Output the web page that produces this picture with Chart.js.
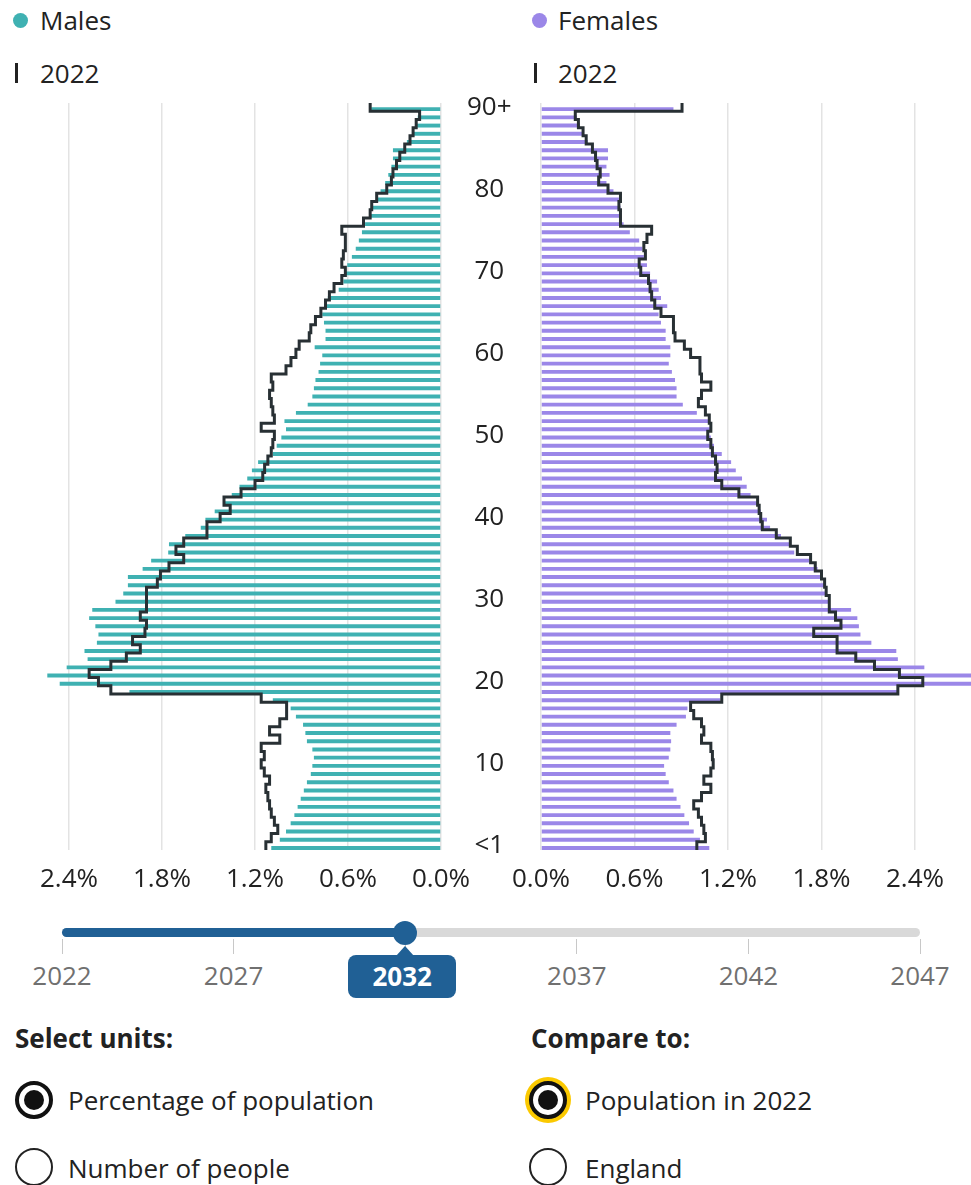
<!DOCTYPE html>
<html>
<head>
<meta charset="utf-8">
<script src="https://cdn.jsdelivr.net/npm/chart.js@4.4.0/dist/chart.umd.min.js"></script>
<style>
  body { margin:0; width:971px; height:1185px; position:relative; overflow:hidden; background:#fff;
         font-family:'Open Sans', sans-serif; color:#222; }
  .abs { position:absolute; }
  .txt { font-size:26px; line-height:30px; white-space:nowrap; }
  .bold { font-weight:700; }
  .dot { width:15px; height:15px; border-radius:50%; }
  .bar { width:3px; height:20px; background:#222; }
  .radio { width:38px; height:38px; border:2px solid #222; border-radius:50%; box-sizing:border-box; background:#fff; }
  .radio.on { border:4px solid #111; }
  .radio.on::after { content:''; position:absolute; left:5px; top:5px; width:20px; height:20px; border-radius:50%; background:#111; }
  .radio.focus { box-shadow:0 0 0 4px #fbc900; }
  canvas { position:absolute; }
</style>
</head>
<body>

<div class="abs dot" style="left:13px;top:13px;background:#3fb1b2"></div>
<div class="abs txt" style="left:40px;top:5px">Males</div>
<div class="abs bar" style="left:15px;top:63px"></div>
<div class="abs txt" id="cmpL" style="left:40px;top:58px"></div>

<div class="abs dot" style="left:532px;top:13px;background:#9b87e8"></div>
<div class="abs txt" style="left:558px;top:5px">Females</div>
<div class="abs bar" style="left:534px;top:63px"></div>
<div class="abs txt" id="cmpR" style="left:558px;top:58px"></div>

<canvas id="males" width="541" height="825" style="left:0;top:85px"></canvas>
<canvas id="females" width="480" height="825" style="left:491px;top:85px"></canvas>

<div id="slider"></div>

<div class="abs txt bold" style="left:15px;top:1023px">Select units:</div>
<div class="abs radio on" style="left:15px;top:1081px"></div>
<div class="abs txt" style="left:68px;top:1085px">Percentage of population</div>
<div class="abs radio" style="left:15px;top:1148px"></div>
<div class="abs txt" style="left:68px;top:1153px">Number of people</div>

<div class="abs txt bold" style="left:531px;top:1023px">Compare to:</div>
<div class="abs radio on focus" style="left:529px;top:1081px"></div>
<div class="abs txt" id="cmpOpt" style="left:585px;top:1085px"></div>
<div class="abs radio" style="left:529px;top:1148px"></div>
<div class="abs txt" style="left:585px;top:1153px">England</div>

<script>
// ages from the top row (90+) down to the bottom row (<1)
var ageLabels = ['90+','89','88','87','86','85','84','83','82','81','80','79','78','77','76','75','74','73','72','71',
  '70','69','68','67','66','65','64','63','62','61','60','59','58','57','56','55','54','53','52','51',
  '50','49','48','47','46','45','44','43','42','41','40','39','38','37','36','35','34','33','32','31',
  '30','29','28','27','26','25','24','23','22','21','20','19','18','17','16','15','14','13','12','11',
  '10','9','8','7','6','5','4','3','2','1','<1'];

// % of population, selected year
var males2032 = [0.45,0.15,0.16,0.18,0.22,0.31,0.31,0.32,0.34,0.36,
  0.39,0.415,0.44,0.46,0.49,0.51,0.53,0.55,0.575,0.605,
  0.62,0.63,0.66,0.73,0.745,0.766,0.755,0.745,0.745,0.815,
  0.766,0.78,0.79,0.81,0.82,0.83,0.86,0.936,1.01,1.0,
  1.03,1.06,1.085,1.18,1.22,1.25,1.30,1.35,1.40,1.46,
  1.52,1.55,1.65,1.755,1.76,1.87,1.925,2.02,2.02,2.05,
  2.10,2.25,2.27,2.23,2.21,2.22,2.30,2.28,2.415,2.54,
  2.46,2.01,1.085,0.97,0.936,0.89,0.875,0.865,0.83,0.82,
  0.83,0.84,0.865,0.885,0.905,0.925,0.946,0.97,1.0,1.04,
  1.095];
var females2032 = [0.85,0.23,0.25,0.27,0.30,0.43,0.43,0.42,0.44,0.42,
  0.465,0.50,0.51,0.51,0.53,0.57,0.63,0.65,0.66,0.68,
  0.70,0.745,0.755,0.77,0.81,0.755,0.77,0.80,0.80,0.83,
  0.83,0.82,0.84,0.86,0.87,0.87,0.91,1.0,1.08,1.09,
  1.09,1.11,1.16,1.22,1.25,1.29,1.32,1.345,1.39,1.41,
  1.45,1.47,1.54,1.60,1.625,1.72,1.775,1.80,1.82,1.83,
  1.85,1.99,2.03,2.04,2.05,2.12,2.28,2.29,2.46,2.9,
  2.85,2.29,1.15,0.94,0.93,0.87,0.83,0.835,0.83,0.82,
  0.79,0.80,0.82,0.85,0.87,0.895,0.92,0.95,0.98,1.02,
  1.08];

// % of population, comparison year (outline)
var males2022 = [0.457,0.138,0.16,0.18,0.20,0.234,0.266,0.287,0.31,0.32,
  0.35,0.415,0.447,0.457,0.50,0.64,0.617,0.617,0.63,0.64,
  0.617,0.64,0.69,0.72,0.745,0.775,0.81,0.84,0.85,0.915,
  0.936,0.968,1.0,1.095,1.085,1.106,1.095,1.085,1.075,1.16,
  1.075,1.085,1.095,1.117,1.138,1.15,1.20,1.29,1.40,1.36,
  1.425,1.51,1.51,1.66,1.71,1.66,1.755,1.81,1.83,1.90,
  1.90,1.90,1.94,1.90,1.91,1.99,1.94,2.03,2.13,2.27,
  2.21,2.13,1.16,0.996,0.996,1.04,1.106,1.04,1.16,1.14,
  1.16,1.14,1.106,1.13,1.117,1.106,1.095,1.075,1.053,1.095,
  1.13];
var females2022 = [0.905,0.22,0.24,0.27,0.29,0.33,0.35,0.36,0.38,0.37,
  0.43,0.51,0.50,0.51,0.51,0.71,0.68,0.66,0.67,0.63,
  0.64,0.69,0.70,0.71,0.73,0.77,0.85,0.85,0.86,0.92,
  0.96,1.02,1.02,1.03,1.09,1.03,1.01,1.055,1.08,1.09,
  1.07,1.09,1.10,1.12,1.13,1.12,1.16,1.27,1.39,1.40,
  1.41,1.42,1.51,1.60,1.645,1.73,1.76,1.80,1.82,1.83,
  1.85,1.85,1.89,1.925,1.75,1.90,1.90,2.02,2.14,2.30,
  2.45,2.29,1.16,0.96,0.98,1.03,1.045,1.03,1.09,1.10,
  1.105,1.09,1.045,1.09,1.03,0.98,1.01,1.03,1.045,1.055,
  1.0];

var xTickValues = [0, 0.6, 1.2, 1.8, 2.4];
var shownAges = ['90+','80','70','60','50','40','30','20','10','<1'];
var sliderYears = [2022, 2027, 2032, 2037, 2042, 2047];
var selectedYear = 2032;
var compareYear = 2022;

var maleColour = '#3fb1b2';
var femaleColour = '#9b87e8';
var outlineColour = '#283034';
var fontSpec = {family: "'Open Sans', sans-serif", size: 26};

// each age row becomes a vertical segment, rows joined by horizontal steps
function stepPoints(values) {
  var pts = [];
  values.forEach(function(v, i) {
    pts.push({x: v, y: i - 0.5});
    pts.push({x: v, y: i + 0.5});
  });
  return pts;
}

function pyramid(canvasId, values, outline, colour, isLeft, xMax) {
  var ctx = document.getElementById(canvasId).getContext('2d');
  return new Chart(ctx, {
    type: 'bar',
    data: {
      labels: ageLabels,
      datasets: [{
        type: 'line',
        label: String(compareYear),
        data: stepPoints(outline),
        yAxisID: 'y2',
        borderColor: outlineColour,
        borderWidth: 3,
        borderJoinStyle: 'miter',
        pointRadius: 0,
        fill: false,
        tension: 0,
        order: 0
      }, {
        label: String(selectedYear),
        data: values,
        backgroundColor: colour,
        borderWidth: 0,
        barPercentage: 0.95,
        categoryPercentage: 1,
        order: 1
      }]
    },
    options: {
      indexAxis: 'y',
      responsive: false,
      animation: false,
      layout: {padding: {top: 18, left: isLeft ? 0 : 50, right: 0, bottom: 0}},
      plugins: {legend: {display: false}, tooltip: {enabled: false}},
      scales: {
        x: {
          type: 'linear',
          reverse: isLeft,
          min: 0,
          max: xMax,
          border: {display: false},
          grid: {color: '#e3e3e3', lineWidth: 1.5, drawTicks: false},
          afterBuildTicks: function(s) { s.ticks = xTickValues.map(function(v) { return {value: v}; }); },
          afterFit: function(s) { s.height = 60; },
          ticks: {
            padding: 14, color: '#222', font: fontSpec, maxRotation: 0, autoSkip: false,
            callback: function(v) { return v.toFixed(1) + '%'; }
          }
        },
        y: {
          type: 'category',
          position: 'right',
          display: isLeft,
          border: {display: false},
          grid: {display: false, drawTicks: false, tickLength: 0},
          afterFit: function(s) {
            s.paddingTop = 0;
            s.paddingBottom = 0;
            if (isLeft) s.width = 100;
          },
          ticks: {
            autoSkip: false, crossAlign: 'center', padding: 26, color: '#222', font: fontSpec,
            callback: function(v) {
              var lab = this.getLabelForValue(v);
              return shownAges.indexOf(lab) >= 0 ? lab : '';
            }
          }
        },
        y2: {type: 'linear', axis: 'y', display: false, offset: false, grid: {offset: false},
             reverse: true, min: -0.5, max: 90.5}
      }
    }
  });
}

pyramid('males', males2032, males2022, maleColour, true, 2.4 * 441 / 372);
pyramid('females', females2032, females2022, femaleColour, false, 2.4 * 430 / 374);

document.getElementById('cmpL').textContent = compareYear;
document.getElementById('cmpR').textContent = compareYear;
document.getElementById('cmpOpt').textContent = 'Population in ' + compareYear;

// year slider
(function() {
  var host = document.getElementById('slider');
  var x0 = 62, x1 = 920, trackY = 928;
  var first = sliderYears[0], last = sliderYears[sliderYears.length - 1];
  function xOf(y) { return x0 + (y - first) / (last - first) * (x1 - x0); }
  var html = '';
  html += '<div class="abs" style="left:' + x0 + 'px;top:' + trackY + 'px;width:' + (x1 - x0) + 'px;height:9px;border-radius:5px;background:#d9d9d9"></div>';
  html += '<div class="abs" style="left:' + x0 + 'px;top:' + trackY + 'px;width:' + (xOf(selectedYear) - x0) + 'px;height:9px;border-radius:5px;background:#206095"></div>';
  sliderYears.forEach(function(y) {
    var x = xOf(y);
    html += '<div class="abs" style="left:' + (x - 0.5) + 'px;top:939px;width:1px;height:15px;background:#c8c8c8"></div>';
    if (y === selectedYear) {
      html += '<div class="abs" style="left:' + (x - 9) + 'px;top:946px;width:0;height:0;border-left:9px solid transparent;border-right:9px solid transparent;border-bottom:10px solid #206095"></div>';
      html += '<div class="abs txt bold" style="left:' + (x - 57) + 'px;top:955px;width:108px;height:43px;line-height:43px;border-radius:8px;background:#206095;color:#fff;text-align:center">' + y + '</div>';
    } else {
      html += '<div class="abs txt" style="left:' + (x - 60) + 'px;top:960px;width:120px;text-align:center;color:#707070">' + y + '</div>';
    }
  });
  html += '<div class="abs" style="left:' + (xOf(selectedYear) - 12) + 'px;top:' + (trackY - 7.5) + 'px;width:24px;height:24px;border-radius:50%;background:#206095"></div>';
  host.innerHTML = html;
})();
</script>
</body>
</html>
